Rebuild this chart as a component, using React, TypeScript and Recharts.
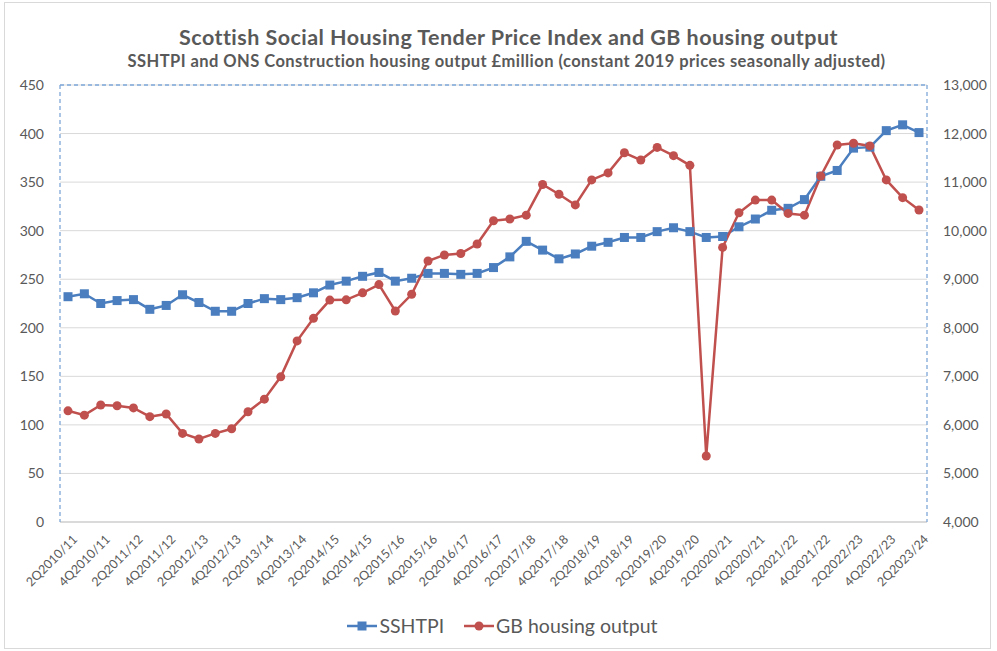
import React from 'react';
import { LineChart, Line, XAxis, YAxis, CartesianGrid, ReferenceLine } from 'recharts';

const quarters = [
  '2Q2010/11', '3Q2010/11', '4Q2010/11', '1Q2011/12',
  '2Q2011/12', '3Q2011/12', '4Q2011/12', '1Q2012/13',
  '2Q2012/13', '3Q2012/13', '4Q2012/13', '1Q2013/14',
  '2Q2013/14', '3Q2013/14', '4Q2013/14', '1Q2014/15',
  '2Q2014/15', '3Q2014/15', '4Q2014/15', '1Q2015/16',
  '2Q2015/16', '3Q2015/16', '4Q2015/16', '1Q2016/17',
  '2Q2016/17', '3Q2016/17', '4Q2016/17', '1Q2017/18',
  '2Q2017/18', '3Q2017/18', '4Q2017/18', '1Q2018/19',
  '2Q2018/19', '3Q2018/19', '4Q2018/19', '1Q2019/20',
  '2Q2019/20', '3Q2019/20', '4Q2019/20', '1Q2020/21',
  '2Q2020/21', '3Q2020/21', '4Q2020/21', '1Q2021/22',
  '2Q2021/22', '3Q2021/22', '4Q2021/22', '1Q2022/23',
  '2Q2022/23', '3Q2022/23', '4Q2022/23', '1Q2023/24',
  '2Q2023/24',
];

const sshtpi = [
  232, 235, 225, 228, 229, 219, 223, 234, 226, 217, 217, 225, 230, 229, 231, 236,
  244, 248, 253, 257, 248, 251, 256, 256, 255, 256, 262, 273, 289, 280, 271, 276,
  284, 288, 293, 293, 299, 303, 299, 293, 294, 304, 312, 321, 323, 332, 356, 362,
  385, 386, 403, 409, 401,
];

const gbHousingOutput = [
  6290, 6200, 6410, 6395, 6350, 6170, 6225, 5825, 5710, 5825, 5920, 6270, 6530, 6990, 7730, 8195,
  8570, 8575, 8720, 8890, 8345, 8690, 9375, 9500, 9530, 9725, 10205, 10240, 10320, 10950, 10750, 10530,
  11045, 11190, 11605, 11455, 11715, 11545, 11345, 5360, 9655, 10370, 10630, 10630, 10355, 10320, 11125, 11765,
  11800, 11745, 11045, 10680, 10425,
];

const leftTicks = [0, 50, 100, 150, 200, 250, 300, 350, 400, 450];
const rightTicks = [4000, 5000, 6000, 7000, 8000, 9000, 10000, 11000, 12000, 13000];

const BLUE = '#4a7ebf';
const RED = '#c0504d';
const TEXT = '#595959';
const FONT = 'Lato, "Open Sans", sans-serif';

const data = quarters.map((q, i) => ({ q, sshtpi: sshtpi[i], gb: gbHousingOutput[i] }));

const SquareDot = (props: any) => {
  const { cx, cy, index } = props;
  if (cx == null || cy == null) return <g key={`s${index}`} />;
  return <rect key={`s${index}`} x={cx - 4.5} y={cy - 4.5} width={9} height={9} fill={BLUE} />;
};

const CircleDot = (props: any) => {
  const { cx, cy, index } = props;
  if (cx == null || cy == null) return <g key={`c${index}`} />;
  return <circle key={`c${index}`} cx={cx} cy={cy} r={4.5} fill={RED} />;
};

const XTick = (props: any) => {
  const { x, y, payload } = props;
  return (
    <g transform={`translate(${x + 4},${y + 4})`}>
      <text
        x={0}
        y={0}
        dy="0.7em"
        textAnchor="end"
        transform="rotate(-45)"
        fill={TEXT}
        fontSize={12.5}
        fontFamily={FONT}
      >
        {payload.value}
      </text>
    </g>
  );
};

const LegendIcon = ({ color, square }: { color: string; square: boolean }) => (
  <svg width={30} height={12} style={{ display: 'block' }}>
    <line x1={0} y1={6} x2={30} y2={6} stroke={color} strokeWidth={2.5} />
    {square ? (
      <rect x={10.5} y={1.5} width={9} height={9} fill={color} />
    ) : (
      <circle cx={15} cy={6} r={4.5} fill={color} />
    )}
  </svg>
);

export default function App() {
  return (
    <div
      style={{
        position: 'absolute',
        left: 0,
        top: 0,
        width: 997,
        height: 651,
        background: '#fff',
        fontFamily: FONT,
      }}
    >
      <div
        style={{
          position: 'absolute',
          left: 4,
          top: 2,
          width: 985,
          height: 645,
          border: '1px solid #d9d9d9',
        }}
      />
      <div
        style={{
          position: 'absolute',
          left: 10,
          top: 25,
          width: 997,
          textAlign: 'center',
          fontSize: 21.5,
          letterSpacing: 0.45,
          fontWeight: 700,
          color: TEXT,
          lineHeight: '24px',
        }}
      >
        Scottish Social Housing Tender Price Index and GB housing output
      </div>
      <div
        style={{
          position: 'absolute',
          left: 8,
          top: 52,
          width: 997,
          textAlign: 'center',
          fontSize: 16.5,
          letterSpacing: 0.45,
          fontWeight: 700,
          color: TEXT,
          lineHeight: '18px',
        }}
      >
        SSHTPI and ONS Construction housing output £million (constant 2019 prices seasonally adjusted)
      </div>
      <div style={{ position: 'absolute', left: 0, top: 0 }}>
        <LineChart
          width={997}
          height={651}
          data={data}
          margin={{ top: 85, left: 8, right: 8, bottom: 69 }}
        >
          <CartesianGrid vertical={false} stroke="#d9d9d9" strokeWidth={1} yAxisId="left" />
          <XAxis
            dataKey="q"
            interval={1}
            tick={<XTick />}
            tickLine={false}
            axisLine={{ stroke: '#c8c8c8', strokeWidth: 1 }}
            padding={{ left: 8, right: 8 }}
            height={60}
          />
          <YAxis
            yAxisId="left"
            domain={[0, 450]}
            ticks={leftTicks}
            width={52}
            tickLine={false}
            tickSize={0}
            tickMargin={16}
            axisLine={{ stroke: '#7ea7d8', strokeWidth: 1.3, strokeDasharray: '4 3' }}
            tick={{ fill: TEXT, fontSize: 14, fontFamily: FONT }}
          />
          <YAxis
            yAxisId="right"
            orientation="right"
            domain={[4000, 13000]}
            ticks={rightTicks}
            width={62}
            tickLine={false}
            tickSize={0}
            tickMargin={16}
            axisLine={{ stroke: '#7ea7d8', strokeWidth: 1.3, strokeDasharray: '4 3' }}
            tickFormatter={(v: number) => v.toLocaleString('en-US')}
            tick={{ fill: TEXT, fontSize: 14, fontFamily: FONT }}
          />
          <ReferenceLine
            yAxisId="left"
            y={450}
            stroke="#7ea7d8"
            strokeWidth={1.3}
            strokeDasharray="4 3"
          />
          <Line
            yAxisId="left"
            dataKey="sshtpi"
            stroke={BLUE}
            strokeWidth={2.5}
            dot={SquareDot}
            activeDot={false}
            isAnimationActive={false}
          />
          <Line
            yAxisId="right"
            dataKey="gb"
            stroke={RED}
            strokeWidth={2.5}
            dot={CircleDot}
            activeDot={false}
            isAnimationActive={false}
          />
        </LineChart>
      </div>
      <div
        style={{
          position: 'absolute',
          left: 0,
          top: 614,
          width: 997,
          display: 'flex',
          justifyContent: 'center',
          alignItems: 'center',
          fontSize: 19.5,
          color: TEXT,
          paddingLeft: 8,
          boxSizing: 'border-box',
        }}
      >
        <LegendIcon color={BLUE} square />
        <span style={{ marginLeft: 2, marginRight: 20 }}>SSHTPI</span>
        <LegendIcon color={RED} square={false} />
        <span style={{ marginLeft: 2 }}>GB housing output</span>
      </div>
    </div>
  );
}
